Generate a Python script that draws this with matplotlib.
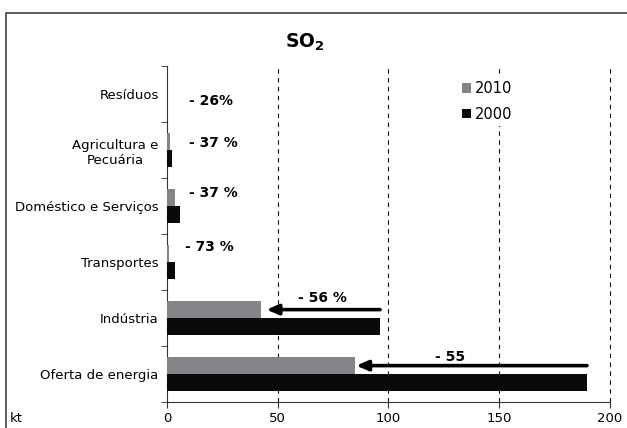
import matplotlib.pyplot as plt
from matplotlib.patches import Rectangle

# emissões de SO2 por setor (kt)
setores = ["Oferta de energia", "Indústria", "Transportes",
           "Doméstico e Serviços", "Agricultura e\nPecuária", "Resíduos"]
valores_2000 = [189.6, 96.2, 3.6, 5.9, 2.3, 0.1]
valores_2010 = [84.9, 42.4, 1.0, 3.7, 1.45, 0.07]
variacoes = ["- 55", "- 56 %", "- 73 %", "- 37 %", "- 37 %", "- 26%"]

cor_2010 = "#838588"
cor_2000 = "#0a0a0a"

fig = plt.figure(figsize=(6.27, 4.28), dpi=100)
ax = fig.add_axes([0.2663, 0.0607, 0.7066, 0.7851])

y = list(range(len(setores)))
h = 0.30
ax.barh([p + 0.15 for p in y], valores_2010, height=h, color=cor_2010, label="2010", zorder=3)
ax.barh([p - 0.15 for p in y], valores_2000, height=h, color=cor_2000, label="2000", zorder=3)

ax.set_xlim(0, 200)
ax.set_ylim(-0.5, 5.5)
ax.set_xticks([0, 50, 100, 150, 200])
ax.set_yticks(y)
ax.set_yticklabels(setores, multialignment="center")
ax.set_yticks([p - 0.5 for p in range(len(setores) + 1)], minor=True)
ax.tick_params(axis="y", which="major", length=0, pad=6, labelsize=9.5)
ax.tick_params(axis="y", which="minor", length=4, direction="out", color="#333333")
ax.tick_params(axis="x", length=4, labelsize=9.5, color="#333333", pad=3)
for xv in [50, 100, 150, 200]:
    ax.axvline(xv, color="#111111", linestyle=(0, (4, 4)), linewidth=0.8,
               zorder=0, clip_on=False)
for s in ["top", "right"]:
    ax.spines[s].set_visible(False)
for s in ["left", "bottom"]:
    ax.spines[s].set_color("#333333")

# setas de redução nos dois maiores setores
for i in [0, 1]:
    ax.annotate("", xy=(valores_2010[i] + (0.5 if i == 0 else 2.5), i + 0.15),
                xytext=(valores_2000[i], i + 0.15),
                arrowprops=dict(arrowstyle="-|>,head_length=0.7,head_width=0.3",
                                color="black", lw=2.6, shrinkA=0, shrinkB=0),
                zorder=4)

ax.text(128, 0.30, variacoes[0], ha="center", va="center", fontsize=10, fontweight="bold")
ax.text(70, 1.36, variacoes[1], ha="center", va="center", fontsize=10, fontweight="bold")
ax.text(8, 2.27, variacoes[2], ha="left", va="center", fontsize=10, fontweight="bold")
ax.text(10, 3.23, variacoes[3], ha="left", va="center", fontsize=10, fontweight="bold")
ax.text(10, 4.125, variacoes[4], ha="left", va="center", fontsize=10, fontweight="bold")
ax.text(10, 4.875, variacoes[5], ha="left", va="center", fontsize=10, fontweight="bold")

leg = ax.legend(loc="upper left", bbox_to_anchor=(0.64, 0.99), frameon=True,
                fontsize=10.5, handlelength=0.6, handleheight=0.6, handletextpad=0.3,
                labelspacing=0.75, borderpad=0.3)
leg.get_frame().set_edgecolor("none")
leg.get_frame().set_facecolor("white")
leg.get_frame().set_alpha(1)

fig.text(305 / 627, 1 - 42 / 428, r"$\mathbf{SO_2}$", ha="center", va="center",
         fontsize=13.5)
fig.text(10 / 627, 1 - 419 / 428, "kt", ha="left", va="center", fontsize=9.5)

fig.add_artist(Rectangle((6 / 627, -0.1), 1.2, 1 - 13 / 428 + 0.1,
                         transform=fig.transFigure, fill=False,
                         edgecolor="#404040", linewidth=1.2))

fig.savefig("out.png", dpi=100)
